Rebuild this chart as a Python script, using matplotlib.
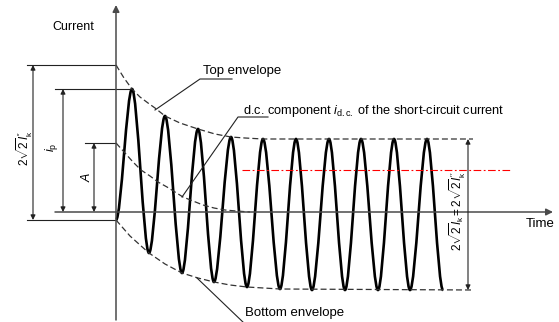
import matplotlib
matplotlib.use("Agg")
import matplotlib.pyplot as plt
from matplotlib.path import Path
from matplotlib.patches import PathPatch

plt.rcParams['font.family'] = ['Liberation Sans', 'DejaVu Sans']
plt.rcParams['mathtext.fontset'] = 'custom'
plt.rcParams['mathtext.rm'] = 'Liberation Sans'
plt.rcParams['mathtext.it'] = 'Liberation Sans:italic'
plt.rcParams['lines.scale_dashes'] = False

# Extrema of the short-circuit current (x, y in picture pixels, y down)
wave_x = [116, 132, 149, 165, 182, 198, 214, 231, 247, 263, 280,
          296, 312, 329, 345, 361, 378, 394, 410, 427, 443]
wave_y = [220, 89, 253, 116, 273, 129, 282, 137, 287, 139, 289,
          139, 290, 139, 290, 139, 290, 139, 290, 139, 290]

# Envelopes
top_x = [116, 124, 132, 140, 148, 155, 165, 180, 198, 215, 231, 245, 263, 473]
top_y = [65, 78, 89, 97, 103, 108, 116, 123, 129, 134, 137, 138, 139, 139]
bot_x = [116, 123, 130, 140, 149, 165, 182, 198, 214, 230, 247, 280, 473]
bot_y = [220, 228, 236, 245, 253, 264, 273, 278, 282, 285, 287, 289, 290]
dc_x = [116, 125, 133, 141, 150, 158, 167, 175, 183, 193, 203, 214, 225, 236, 250]
dc_y = [143, 153, 162, 170, 176, 182, 187, 192, 197, 201, 205, 208, 210, 211, 212]

# Dimension levels
y_time = 212
y_2sqrt2 = 65
y_ip = 89
y_A = 143
y_start = 220

fig = plt.figure(figsize=(5.59, 3.22), dpi=100)
ax = fig.add_axes([0, 0, 1, 1])
ax.set_xlim(0, 559)
ax.set_ylim(322, 0)
ax.axis('off')

axis_col = '#4a4a4a'
dim_col = '#222222'


def arrow(x0, y0, x1, y1, style='<|-|>', col=dim_col, lw=0.8, ms=7):
    ax.annotate('', xy=(x1, y1), xytext=(x0, y0),
                arrowprops=dict(arrowstyle=style, color=col, lw=lw,
                                mutation_scale=ms, shrinkA=0, shrinkB=0))


# axes
arrow(116, 320, 116, 5, style='-|>', col=axis_col, lw=1.1, ms=10)
arrow(55, y_time, 553, y_time, style='-|>', col=axis_col, lw=1.1, ms=10)
ax.text(73, 27, 'Current', fontsize=9, ha='center', va='center')
ax.text(540, 224, 'Time', fontsize=9.5, ha='center', va='center')

# waveform as half-cycle curves between extrema
verts = [(wave_x[0], wave_y[0])]
codes = [Path.MOVETO]
for i in range(1, len(wave_x)):
    x0, y0 = wave_x[i - 1], wave_y[i - 1]
    x1, y1 = wave_x[i], wave_y[i]
    dx = x1 - x0
    verts += [(x0 + 0.32 * dx, y0), (x1 - 0.32 * dx, y1), (x1, y1)]
    codes += [Path.CURVE4] * 3
ax.add_patch(PathPatch(Path(verts, codes), fill=False, lw=1.9, color='black'))

# envelopes
for xs, ys in [(top_x, top_y), (bot_x, bot_y), (dc_x, dc_y)]:
    ax.plot(xs, ys, color='#333333', lw=0.9, dashes=(4.3, 2.2))

# red dash-dot line
ax.plot([242, 510], [170, 170], color='red', lw=0.8, dashes=(5.5, 1.8, 1.3, 1.8))

# left dimensions
ax.plot([27, 116], [y_2sqrt2, y_2sqrt2], color=dim_col, lw=0.8)
ax.plot([27, 116], [y_start, y_start], color=dim_col, lw=0.8)
arrow(33, y_start, 33, y_2sqrt2)
ax.text(25, 148, r"$2\sqrt{2}I_{\mathrm{k}}^{\prime\prime}$", fontsize=8.5,
        rotation=90, ha='center', va='center')

ax.plot([55, 132], [y_ip, y_ip], color=dim_col, lw=0.8)
arrow(63, y_time, 63, y_ip)
ax.text(51, 147, r"$i_{\mathrm{p}}$", fontsize=9, rotation=90,
        ha='center', va='center')

ax.plot([85, 116], [y_A, y_A], color=dim_col, lw=0.8)
arrow(94, y_time, 94, y_A)
ax.text(87, 177, r"$A$", fontsize=9, rotation=90, ha='center', va='center')

# right dimension
arrow(468, 290, 468, 139)
ax.text(458, 211, r"$2\sqrt{2}I_{\mathrm{k}}=2\sqrt{2}I_{\mathrm{k}}^{\prime\prime}$",
        fontsize=8.5, rotation=90, ha='center', va='center')

# labels with leaders
ax.text(203, 71, 'Top envelope', fontsize=9.5, ha='left', va='center')
ax.plot([155, 200, 232], [110, 79, 79], color=dim_col, lw=0.8)

ax.text(243, 111, r"d.c. component $i_{\mathrm{d.c.}}$ of the short-circuit current",
        fontsize=9.2, ha='left', va='center')
ax.plot([182, 238, 268], [197, 117, 117], color=dim_col, lw=0.8)

ax.text(245, 313, 'Bottom envelope', fontsize=9.5, ha='left', va='center')
ax.plot([197, 245], [278, 324], color=dim_col, lw=0.8)

fig.savefig('out.png', dpi=100)
